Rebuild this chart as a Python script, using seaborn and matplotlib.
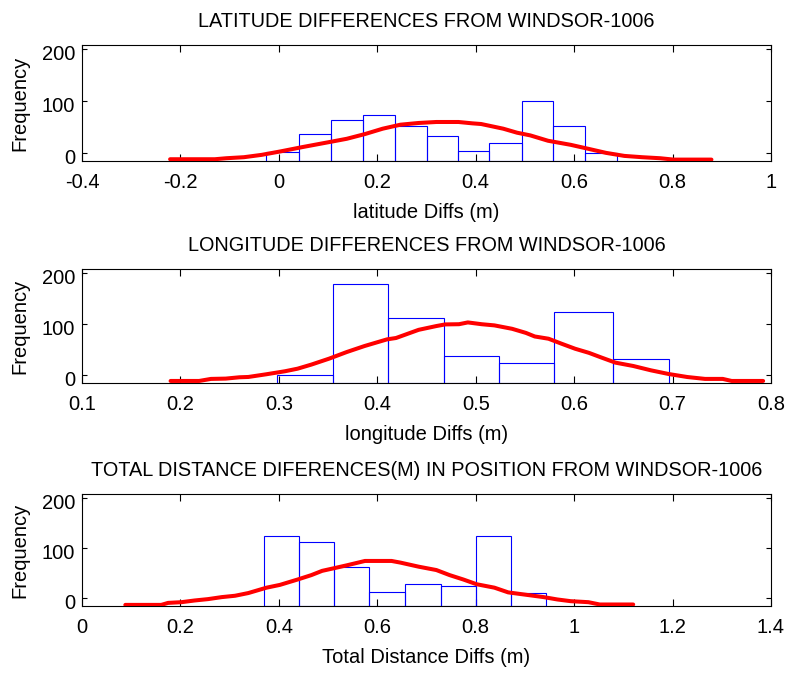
import numpy as np
import pandas as pd
import matplotlib
matplotlib.use("Agg")
import matplotlib.pyplot as plt
import matplotlib.transforms as mtransforms
import seaborn as sns

sns.set_style("ticks")
plt.rcParams["font.family"] = ["Liberation Sans", "DejaVu Sans"]
plt.rcParams["text.color"] = "black"
plt.rcParams["axes.labelcolor"] = "black"
plt.rcParams["xtick.color"] = "black"
plt.rcParams["ytick.color"] = "black"
plt.rcParams["axes.titlecolor"] = "black"

# --- latitude differences ---
lat_edges = [-0.027, 0.041, 0.106, 0.171, 0.236, 0.300, 0.365, 0.428, 0.494, 0.558, 0.623, 0.687]
lat_counts = [3, 36, 63, 74, 53, 33, 5, 19, 101, 53, 0]
lat_fit_x = [-0.221, -0.130, -0.107, -0.071, -0.035, 0.002, 0.047, 0.102, 0.138, 0.175,
             0.211, 0.247, 0.284, 0.320, 0.365, 0.393, 0.411, 0.456, 0.484, 0.511,
             0.547, 0.593, 0.629, 0.665, 0.702, 0.738, 0.775, 0.802, 0.879]
lat_fit_y = [-11.6, -11.6, -9.7, -7.7, -3.2, 3.2, 11.6, 21.3, 27.7, 36.8,
             47.1, 54.8, 58.1, 60.0, 60.0, 57.4, 56.1, 47.1, 39.4, 34.2,
             23.9, 16.1, 8.4, 0.6, -5.2, -7.7, -9.7, -12.3, -12.3]

# --- longitude differences ---
lon_edges = [0.298, 0.355, 0.411, 0.468, 0.524, 0.580, 0.639, 0.696]
lon_counts = [0, 178, 113, 38, 24, 124, 31]
lon_fit_x = [0.190, 0.219, 0.231, 0.246, 0.260, 0.269, 0.287, 0.306, 0.319, 0.333,
             0.351, 0.369, 0.387, 0.410, 0.419, 0.442, 0.460, 0.469, 0.483, 0.492,
             0.506, 0.519, 0.537, 0.551, 0.560, 0.574, 0.587, 0.601, 0.615, 0.628,
             0.642, 0.660, 0.678, 0.696, 0.715, 0.733, 0.751, 0.760, 0.792]
lon_fit_y = [-11.0, -11.0, -7.0, -6.4, -3.8, -3.2, 2.0, 7.9, 13.0, 21.0,
             32.6, 45.6, 57.3, 70.4, 73.0, 89.0, 96.4, 99.6, 100.0, 103.5,
             100.0, 97.7, 91.0, 83.0, 76.0, 71.6, 62.0, 52.0, 44.0, 34.6,
             24.8, 18.3, 9.8, 2.6, -3.3, -7.0, -7.0, -11.0, -11.0]

# --- total distance differences ---
tot_edges = [0.370, 0.441, 0.512, 0.584, 0.657, 0.729, 0.800, 0.871, 0.942]
tot_counts = [124, 113, 63, 13, 28, 24, 124, 10]
tot_fit_x = [0.088, 0.161, 0.175, 0.202, 0.229, 0.256, 0.284, 0.311, 0.338, 0.375,
             0.402, 0.438, 0.466, 0.488, 0.511, 0.538, 0.575, 0.629, 0.647, 0.684,
             0.720, 0.747, 0.775, 0.802, 0.838, 0.866, 0.902, 0.938, 0.966, 0.993,
             1.029, 1.052, 1.120]
tot_fit_y = [-12.8, -12.8, -8.8, -7.4, -4.0, -1.3, 2.7, 5.4, 10.8, 21.5,
             27.0, 37.7, 46.5, 55.0, 60.0, 66.0, 74.7, 74.7, 71.4, 63.3,
             56.6, 46.5, 37.7, 28.3, 21.5, 12.1, 7.4, 2.7, -2.0, -5.4,
             -7.4, -12.0, -12.0]

panels = [
    dict(edges=lat_edges, counts=lat_counts, fx=lat_fit_x, fy=lat_fit_y,
         title="LATITUDE DIFFERENCES FROM WINDSOR-1006",
         xlabel="latitude Diffs (m)", xlim=(-0.4, 1.0),
         xticks=[-0.4, -0.2, 0, 0.2, 0.4, 0.6, 0.8, 1.0],
         xticklabels=["-0.4", "-0.2", "0", "0.2", "0.4", "0.6", "0.8", "1"],
         rect=[82, 45, 771, 161]),
    dict(edges=lon_edges, counts=lon_counts, fx=lon_fit_x, fy=lon_fit_y,
         title="LONGITUDE DIFFERENCES FROM WINDSOR-1006",
         xlabel="longitude Diffs (m)", xlim=(0.1, 0.8),
         xticks=[0.1, 0.2, 0.3, 0.4, 0.5, 0.6, 0.7, 0.8],
         xticklabels=["0.1", "0.2", "0.3", "0.4", "0.5", "0.6", "0.7", "0.8"],
         rect=[82, 269, 771, 383]),
    dict(edges=tot_edges, counts=tot_counts, fx=tot_fit_x, fy=tot_fit_y,
         title="TOTAL DISTANCE DIFERENCES(M) IN POSITION FROM WINDSOR-1006",
         xlabel="Total Distance Diffs (m)", xlim=(0.0, 1.4),
         xticks=[0, 0.2, 0.4, 0.6, 0.8, 1.0, 1.2, 1.4],
         xticklabels=["0", "0.2", "0.4", "0.6", "0.8", "1", "1.2", "1.4"],
         rect=[82, 494, 771, 606]),
]

W, H = 789, 673
fig = plt.figure(figsize=(W / 100, H / 100), dpi=100)
fig.patch.set_facecolor("white")

YLIM = (-15, 208)
FS = 14.5

for p in panels:
    x0, y0, x1, y1 = p["rect"]
    ax = fig.add_axes([x0 / W, 1 - y1 / H, (x1 - x0) / W, (y1 - y0) / H])
    edges = list(p["edges"])
    centers = [(a + b) / 2 for a, b in zip(edges[:-1], edges[1:])]
    df = pd.DataFrame({"x": centers, "n": [float(c) for c in p["counts"]]})
    sns.histplot(data=df, x="x", weights="n", bins=edges, fill=False,
                 color="#0000FF", linewidth=0.8, ax=ax)
    ax.set_ylim(*YLIM)
    # bars rest on the bottom of the frame
    for bar in ax.patches:
        top = bar.get_y() + bar.get_height()
        bar.set_y(YLIM[0])
        bar.set_height(top - YLIM[0])
    fit = pd.DataFrame({"x": p["fx"], "y": p["fy"]})
    sns.lineplot(data=fit, x="x", y="y", color="#FF0000", linewidth=2.9,
                 sort=False, estimator=None, ax=ax, zorder=5)
    ax.set_xlim(*p["xlim"])
    ax.set_xticks(p["xticks"])
    ax.set_xticklabels(p["xticklabels"])
    ax.set_yticks([0, 100, 200])
    ax.set_yticklabels(["0", "100", "200"])
    ax.set_title(p["title"], fontsize=14.3, pad=13, color="black")
    ax.set_xlabel(p["xlabel"], fontsize=FS, labelpad=8, color="black")
    ax.set_ylabel("Frequency", fontsize=FS, labelpad=9, color="black")
    ax.tick_params(axis="both", direction="in", labelsize=FS, top=True, right=True,
                   width=0.8, color="black", labelcolor="black")
    ax.tick_params(axis="x", length=5, pad=8.5)
    ax.tick_params(axis="y", length=3.6, pad=5)
    for s in ax.spines.values():
        s.set_visible(True)
        s.set_linewidth(0.8)
        s.set_color("black")
    shift = mtransforms.ScaledTranslation(0, -3 / 100, fig.dpi_scale_trans)
    for lab in ax.get_yticklabels():
        lab.set_transform(lab.get_transform() + shift)

fig.savefig("out.png", dpi=100, facecolor="white")
